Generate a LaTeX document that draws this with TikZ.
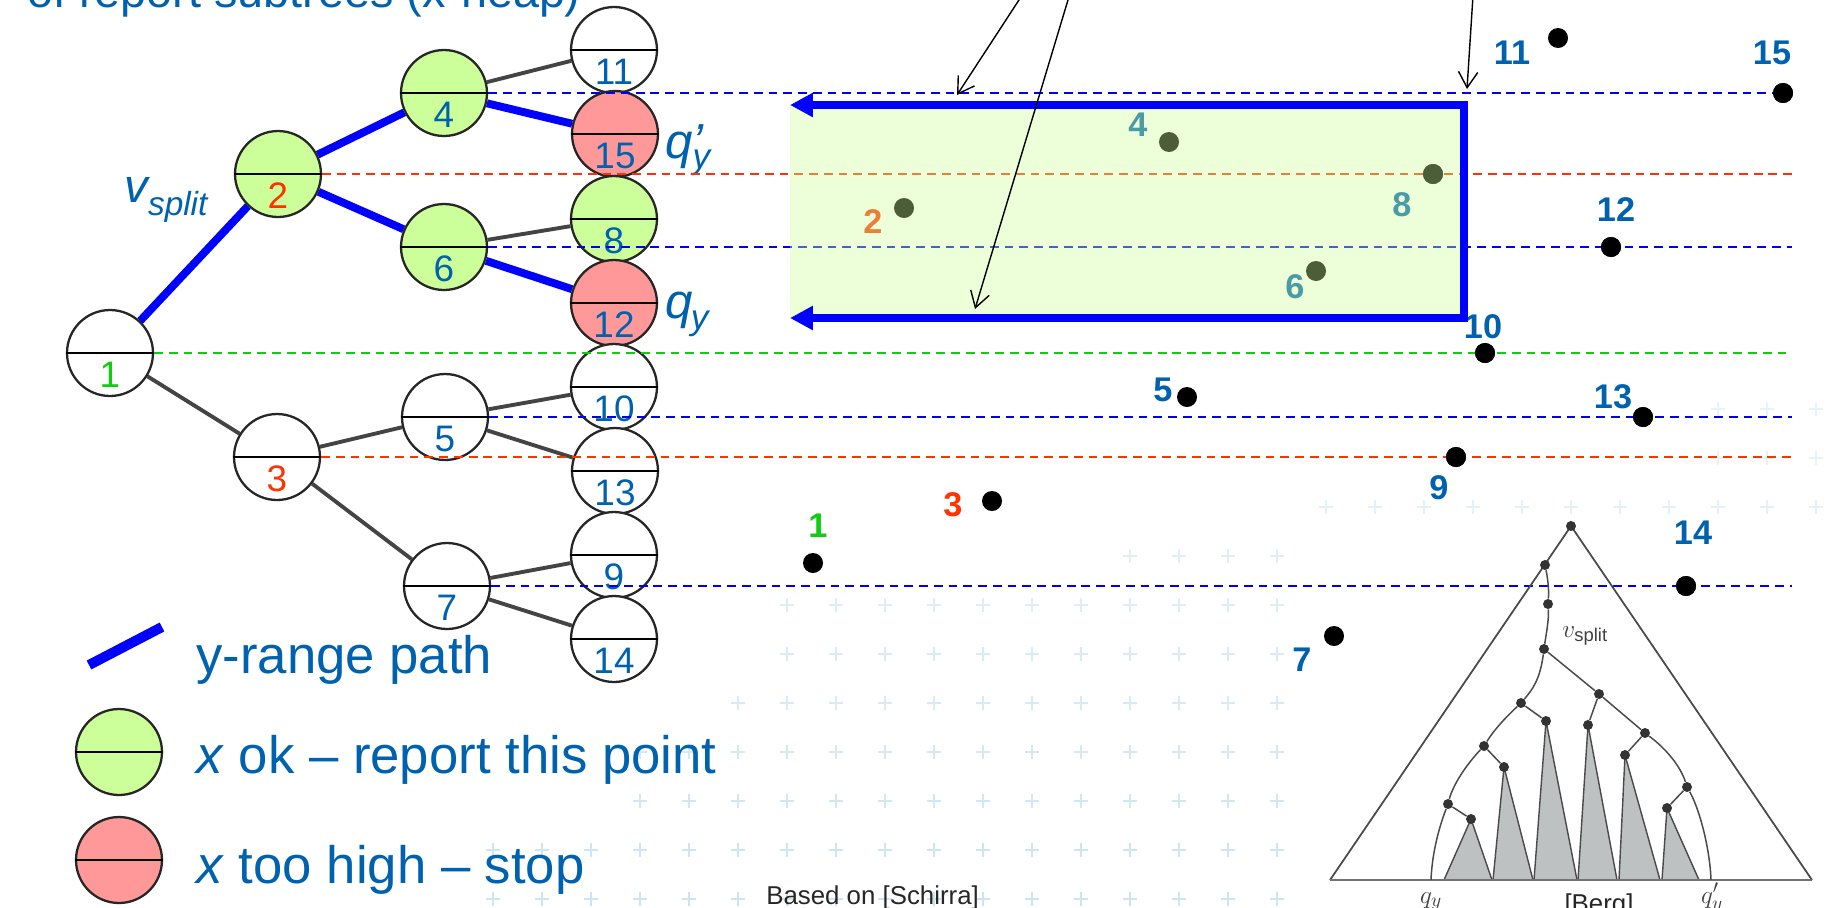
\documentclass[tikz,border=0pt]{standalone}
\usepackage{fontspec}
\setmainfont{Liberation Sans}
\usetikzlibrary{arrows.meta,calc}
\definecolor{sblue}{HTML}{0061AF}
\definecolor{tgreen}{HTML}{CCFF99}
\definecolor{tpink}{HTML}{FF9999}
\definecolor{dblue}{HTML}{0000EE}
\definecolor{dred}{HTML}{FF3300}
\definecolor{dgreen}{HTML}{11CC11}
\definecolor{pathblue}{HTML}{0000FF}
\definecolor{crossc}{HTML}{A8D4EA}
\definecolor{edgegray}{HTML}{444444}
\definecolor{insetgray}{HTML}{4A4A4A}
\definecolor{subfill}{HTML}{BEC1C1}
\pgfdeclarelayer{back}
\pgfdeclarelayer{edges}
\pgfsetlayers{back,edges,main}
\begin{document}
\begin{tikzpicture}[x=0.02cm,y=-0.02cm,
  tnode/.style={circle,draw=black!85,line width=1.3pt,minimum size=1.72cm,inner sep=0pt,fill=white},
  okfill/.style={fill=tgreen},
  stopfill/.style={fill=tpink},
  numlab/.style={font=\fontsize{21}{21}\selectfont,text=sblue,inner sep=0pt},
  divline/.style={line width=1.1pt,black},
  gedge/.style={edgegray,line width=2.2pt},
  bedge/.style={pathblue,line width=4.5pt},
  dline/.style={line width=1.2pt,dash pattern=on 5pt off 3.4pt},
  pdot/.style={circle,fill=black,minimum size=0.4cm,inner sep=0pt},
  plab/.style={font=\bfseries\fontsize{19.5}{19.5}\selectfont,text=sblue,inner sep=0pt},
  legtext/.style={font=\fontsize{30}{30}\selectfont,text=sblue,inner sep=0pt,anchor=base west},
  thinarrow/.style={black,line width=0.8pt,-{Straight Barb[length=9pt,width=11pt]}},
  idot/.style={circle,fill=black!80,minimum size=0.2cm,inner sep=0pt},
  iline/.style={insetgray,line width=0.85pt},
  crossst/.style={crossc,line width=1.1pt}]
\useasboundingbox (0,0) rectangle (1832,907);
\clip (0,0) rectangle (1832,907);

% background crosses
\begin{pgfonlayer}{back}
\foreach \i in {0,...,31}{
 \foreach \j in {0,...,10}{
  \pgfmathsetmacro\cx{297+49*\i}
  \pgfmathsetmacro\cy{409+49*\j}
  \pgfmathtruncatemacro\vis{((\cx>=1320)&&(\cy<=510)&&((\cy>=500)||(\cx>=1700))) || ((\cx<1320)&&(\cx>=780)&&((\cy>=600)||((\cy>=550)&&(\cx>=1120)))) || ((\cx<780)&&(((\cy>=840)&&(\cx>=480))||((\cy>=740)&&(\cx>=640))||((\cy>=700)&&(\cx>=690))))}
  \pgfmathsetmacro\op{min(0.6,0.25+(\cy-400)/1400)}
  \ifnum\vis=1
    \draw[crossst,opacity=\op] (\cx-7,\cy) -- (\cx+7,\cy) (\cx,\cy-7) -- (\cx,\cy+7);
  \fi
 }}
\end{pgfonlayer}

% title fragment
\node[anchor=base west,font=\fontsize{26.6}{26.6}\selectfont,text=sblue,inner sep=0pt] (ttl) at (27,7) {of report subtrees (x-heap)};

% tree nodes
\node[tnode] (n1) at (110,353) {};
\node[tnode,okfill] (n2) at (278,174) {};
\node[tnode] (n3) at (277,457) {};
\node[tnode,okfill] (n4) at (444,93) {};
\node[tnode,okfill] (n6) at (444,247) {};
\node[tnode] (n5) at (445,417) {};
\node[tnode] (n7) at (447,586) {};
\node[tnode] (n11) at (614,50) {};
\node[tnode,stopfill] (n15) at (615,134) {};
\node[tnode,okfill] (n8) at (614,219) {};
\node[tnode,stopfill] (n12) at (614,303) {};
\node[tnode] (n10) at (614,387) {};
\node[tnode] (n13) at (615,471) {};
\node[tnode] (n9) at (614,555) {};
\node[tnode] (n14) at (614,639) {};
\foreach \n in {n1,n2,n3,n4,n5,n6,n7,n8,n9,n10,n11,n12,n13,n14,n15}
  \draw[divline] (\n.west) -- (\n.east);

\node[numlab,text=dgreen] (k1) at ($(n1.center)+(0,22)$) {1};
\node[numlab,text=dred] (k2) at ($(n2.center)+(0,22)$) {2};
\node[numlab,text=dred] (k3) at ($(n3.center)+(0,22)$) {3};
\foreach \n in {4,5,6,7,8,9,10,11,12,13,14,15}
  \node[numlab] (k\n) at ($(n\n.center)+(0,22)$) {\n};

% tree edges
\begin{pgfonlayer}{edges}
\draw[gedge] (n4) -- (n11);
\draw[gedge] (n6) -- (n8);
\draw[gedge] (n1) -- (n3);
\draw[gedge] (n3) -- (n5);
\draw[gedge] (n3) -- (n7);
\draw[gedge] (n5) -- (n10);
\draw[gedge] (n5) -- (n13);
\draw[gedge] (n7) -- (n9);
\draw[gedge] (n7) -- (n14);
\draw[gedge] (n2) -- (n6);
\draw[bedge] (n1) -- (n2);
\draw[bedge] (n2) -- (n4);
\draw[bedge] (n4) -- (n15);
\draw[bedge] (n2) -- (n6);
\draw[bedge] (n6) -- (n12);
\end{pgfonlayer}

% labels in tree
\node[anchor=base west,text=sblue,inner sep=0pt] (vs) at (124,202) {\fontsize{27}{27}\selectfont\itshape v\raisebox{-7.4pt}{\fontsize{19}{19}\selectfont split}};
\node[anchor=base west,text=sblue,inner sep=0pt] (qyp) at (665,158) {\fontsize{28}{28}\selectfont\itshape q\rlap{’}\raisebox{-5.7pt}{\fontsize{20}{20}\selectfont y}};
\node[anchor=base west,text=sblue,inner sep=0pt] (qy) at (665,318) {\fontsize{28}{28}\selectfont\itshape q\kern-1pt\raisebox{-6.8pt}{\fontsize{20}{20}\selectfont y}};

% points
\node[pdot] (p11) at (1558,38) {};
\node[pdot] (p15) at (1783,93) {};
\node[pdot] (p4) at (1169,142) {};
\node[pdot] (p8) at (1433,174) {};
\node[pdot] (p2) at (904,208) {};
\node[pdot] (p6) at (1316,271) {};
\node[pdot] (p12) at (1611,247) {};
\node[pdot] (p10) at (1485,353) {};
\node[pdot] (p5) at (1187,397) {};
\node[pdot] (p13) at (1643,417) {};
\node[pdot] (p9) at (1456,457) {};
\node[pdot] (p3) at (992,501) {};
\node[pdot] (p1) at (813,563) {};
\node[pdot] (p14) at (1686,586) {};
\node[pdot] (p7) at (1334,636) {};

\node[plab] (q11) at (1512,53) {11};
\node[plab] (q15) at (1772,53) {15};
\node[plab] (q4) at (1138,125) {4};
\node[plab] (q8) at (1402,205) {8};
\node[plab,text=dred] (q2) at (873,222) {2};
\node[plab] (q6) at (1295,287) {6};
\node[plab] (q12) at (1616,210) {12};
\node[plab] (q10) at (1483,327) {10};
\node[plab] (q5) at (1163,390) {5};
\node[plab] (q13) at (1613,397) {13};
\node[plab] (q9) at (1439,488) {9};
\node[plab,text=dred] (q3) at (953,505) {3};
\node[plab,text=dgreen] (q1) at (818,526) {1};
\node[plab] (q14) at (1693,533) {14};
\node[plab] (q7) at (1302,660) {7};

% dashed split lines
\coordinate (xend) at (1792,0);
\draw[dline,dblue] (n4.east) -- (p15.center);
\draw[dline,dred] (n2.east) -- (n2.east -| xend);
\draw[dline,dblue] (n6.east) -- (n6.east -| xend);
\draw[dline,dgreen] (n1.east) -- (n1.east -| xend);
\draw[dline,dblue] (n5.east) -- (n5.east -| xend);
\draw[dline,dred] (n3.east) -- (n3.east -| xend);
\draw[dline,dblue] (n7.east) -- (n7.east -| xend);
\node[pdot] (p15b) at (p15) {};
\node[pdot] (p8b) at (p8) {};
\node[pdot] (p12b) at (p12) {};
\node[pdot] (p10b) at (p10) {};
\node[pdot] (p13b) at (p13) {};
\node[pdot] (p9b) at (p9) {};
\node[pdot] (p14b) at (p14) {};

% query region
\coordinate (r1) at (790,105);
\coordinate (r2) at (1464,105);
\coordinate (r3) at (1464,318);
\coordinate (r4) at (790,318);
\fill[tgreen,opacity=0.37] (r1) rectangle (r3);
\draw[pathblue,line width=4.5pt,line join=miter,{Triangle[length=13pt,width=13pt]}-{Triangle[length=13pt,width=13pt]}] (r1) -- (r2) -- (r3) -- (r4);

% pointer arrows
\coordinate (a1s) at (1032,-20);
\coordinate (a1e) at (957,95);
\coordinate (a2s) at (1074,-20);
\coordinate (a2e) at (975,309);
\coordinate (a3s) at (1474,-20);
\coordinate (a3e) at (1467,89);
\draw[thinarrow] (a1s) -- (a1e);
\draw[thinarrow] (a2s) -- (a2e);
\draw[thinarrow] (a3s) -- (a3e);

% legend
\coordinate (lg1) at (89,665);
\coordinate (lg2) at (162,627);
\draw[pathblue,line width=5.7pt] (lg1) -- (lg2);
\node[tnode,okfill] (lgG) at (119,752) {};
\node[tnode,stopfill] (lgP) at (119,860) {};
\draw[divline] (lgG.west) -- (lgG.east);
\draw[divline] (lgP.west) -- (lgP.east);
\node[legtext] (t1) at (196,673) {y-range path};
\node[legtext] (t2) at (196,773) {\textit{x} ok – report this point};
\node[legtext] (t3) at (196,883) {\textit{x} too high – stop};

\node[anchor=base west,font=\fontsize{14.7}{14.7}\selectfont,text=black!85,inner sep=0pt] (src) at (766,904) {Based on [Schirra]};

% inset figure [Berg]
\coordinate (ta) at (1571,526);
\coordinate (tl) at (1330,880);
\coordinate (tr) at (1812,880);
\draw[iline,line width=1pt] (tl) -- (ta) -- (tr);
\draw[black!55,line width=1.4pt] (tl) -- (tr);
\node[idot] (ia) at (1571,526) {};
\node[idot] (ib) at (1545,565) {};
\node[idot] (ic) at (1548,604) {};
\node[idot] (id) at (1544,649) {};
\node[idot] (ie) at (1521,703) {};
\node[idot] (if) at (1599,694) {};
\node[idot] (ig) at (1546,721) {};
\node[idot] (ih) at (1588,725) {};
\node[idot] (ii) at (1484,746) {};
\node[idot] (ij) at (1645,733) {};
\node[idot] (ik) at (1504,767) {};
\node[idot] (il) at (1625,755) {};
\node[idot] (im) at (1448,804) {};
\node[idot] (in) at (1687,787) {};
\node[idot] (io) at (1471,819) {};
\node[idot] (ip) at (1667,808) {};
\coordinate (bq) at (1431,880);
\coordinate (bqp) at (1711,880);
\begin{pgfonlayer}{edges}
\filldraw[fill=subfill,draw=insetgray,line width=0.8pt] (io.center) -- (1444,880) -- (1492,880) -- cycle;
\filldraw[fill=subfill,draw=insetgray,line width=0.8pt] (ik.center) -- (1493,880) -- (1533,880) -- cycle;
\filldraw[fill=subfill,draw=insetgray,line width=0.8pt] (ig.center) -- (1534,880) -- (1577,880) -- cycle;
\filldraw[fill=subfill,draw=insetgray,line width=0.8pt] (ih.center) -- (1578,880) -- (1617,880) -- cycle;
\filldraw[fill=subfill,draw=insetgray,line width=0.8pt] (il.center) -- (1619,880) -- (1660,880) -- cycle;
\filldraw[fill=subfill,draw=insetgray,line width=0.8pt] (ip.center) -- (1662,880) -- (1699,880) -- cycle;
\end{pgfonlayer}
\draw[iline] (ib) .. controls (1548,580) and (1549,590) .. (ic);
\draw[iline] (ic) .. controls (1549,620) and (1546,635) .. (id);
\draw[iline] (id) .. controls (1540,680) and (1532,690) .. (ie);
\draw[iline] (id) -- (if);
\draw[iline] (ie) -- (ig);
\draw[iline] (ie) .. controls (1505,718) and (1494,730) .. (ii);
\draw[iline] (ii) -- (ik);
\draw[iline] (ii) .. controls (1466,765) and (1453,785) .. (im);
\draw[iline] (im) -- (io);
\draw[iline] (im) .. controls (1438,830) and (1432,855) .. (bq);
\draw[iline] (if) -- (ih);
\draw[iline] (if) -- (ij);
\draw[iline] (ij) -- (il);
\draw[iline] (ij) .. controls (1665,748) and (1680,765) .. (in);
\draw[iline] (in) -- (ip);
\draw[iline] (in) .. controls (1700,810) and (1710,850) .. (bqp);
\node[anchor=base west,inner sep=0pt,text=black!75] (ivs) at (1562,637) {\fontsize{15}{15}\selectfont$v_{\mathrm{split}}$};
\node[anchor=base,inner sep=0pt,text=black!75] (iqy) at (1431,903) {\fontsize{15}{15}\selectfont$q_y$};
\node[anchor=base,inner sep=0pt,text=black!75] (iqyp) at (1712,903) {\fontsize{15}{15}\selectfont$q'_y$};
\node[anchor=base,inner sep=0pt,font=\fontsize{14.7}{14.7}\selectfont,text=black!85] (berg) at (1599,912) {[Berg]};
\end{tikzpicture}
\end{document}
